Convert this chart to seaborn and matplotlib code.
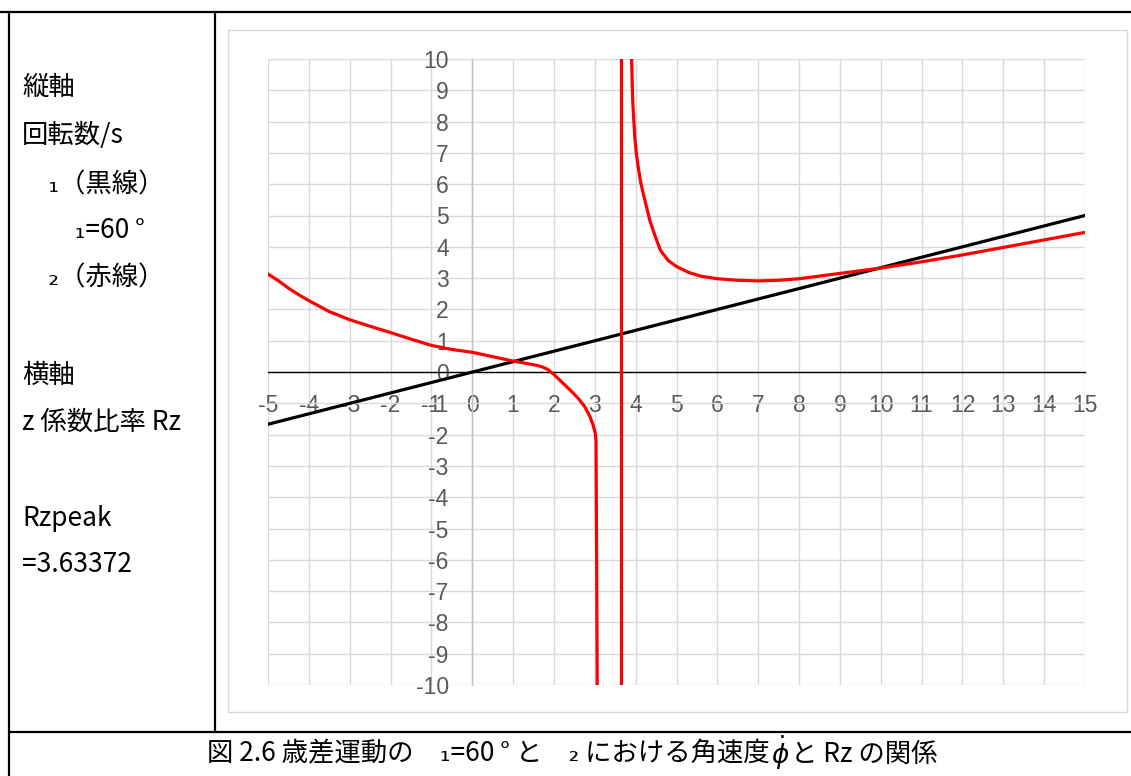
import matplotlib
matplotlib.use("Agg")
import matplotlib.pyplot as plt
import seaborn as sns
from matplotlib.lines import Line2D
from matplotlib.patches import Rectangle
from matplotlib.text import Annotation

# ---- data ----
x_ticks = list(range(-5, 16))
y_ticks = list(range(-10, 11))

black_x = [-5.0, 15.0]
black_y = [-1.67, 5.0]

red_left_x = [-5.0, -4.75, -4.5, -4.25, -4.0, -3.5, -3.0, -2.5, -2.0, -1.5, -1.0, -0.5,
              0.0, 0.5, 1.0, 1.3, 1.55, 1.7, 1.85, 2.0, 2.2, 2.4, 2.6, 2.75, 2.88,
              2.96, 3.01, 3.03, 3.06]
red_left_y = [3.13, 2.92, 2.68, 2.47, 2.28, 1.93, 1.67, 1.46, 1.26, 1.05, 0.85, 0.72,
              0.63, 0.49, 0.35, 0.28, 0.22, 0.17, 0.08, -0.08, -0.33, -0.58, -0.85, -1.1,
              -1.42, -1.7, -1.95, -2.2, -10.0]

red_right_x = [3.90, 3.93, 3.98, 4.02, 4.065, 4.12, 4.19, 4.27, 4.35, 4.48, 4.61, 4.8,
               5.0, 5.3, 5.6, 6.0, 6.5, 7.0, 7.5, 8.0, 9.0, 10.0, 11.0, 12.0, 13.0,
               14.0, 15.0]
red_right_y = [10.0, 8.6, 7.49, 6.95, 6.53, 6.08, 5.68, 5.25, 4.83, 4.33, 3.88, 3.56,
               3.37, 3.18, 3.06, 2.98, 2.93, 2.91, 2.93, 2.98, 3.15, 3.32, 3.52, 3.74,
               3.98, 4.22, 4.46]

rz_peak = 3.63372
peak_x = [rz_peak, rz_peak]
peak_y = [-10.0, 10.0]

left_lines = ["縦軸", "回転数/s", "　₁（黒線）", "　　₁=60 °", "　₂（赤線）",
              "横軸", "z 係数比率 Rz", "Rzpeak", "=3.63372"]
left_ys = [87, 135, 185, 231, 278, 375, 422, 518, 565]
caption_parts = ["図 2.6 歳差運動の　₁=60 ° と　₂ における角速度", r"$\dot{\phi}$", "と Rz の関係"]

# ---- figure ----
sns.set_theme(style="white")
plt.rcParams["font.family"] = ["Noto Sans CJK JP", "DejaVu Sans"]
plt.rcParams["mathtext.fontset"] = "dejavusans"

W, H = 1131, 776
fig = plt.figure(figsize=(W / 100, H / 100), dpi=100)
fig.patch.set_facecolor("white")


def fx(px):
    return px / W


def fy(py):
    return 1 - py / H


lw_tab = 1.6
for (x0, y0, x1, y1) in [(0, 12, W, 12), (9, 12, 9, H), (215, 12, 215, 732), (9, 732, W, 732)]:
    fig.add_artist(Line2D([fx(x0), fx(x1)], [fy(y0), fy(y1)], color="black", lw=lw_tab))

# chart frame
fig.add_artist(Rectangle((fx(228), fy(712)), fx(1127) - fx(228), fy(30) - fy(712),
                         fill=False, edgecolor="#d9d9d9", lw=1.0))

# plot area
L, R, T, B = 268, 1085, 59, 685
ax = fig.add_axes([fx(L), fy(B), fx(R) - fx(L), fy(T) - fy(B)])
ax.set_facecolor("none")

kw = dict(ax=ax, linewidth=2.3, sort=False, estimator=None)
sns.lineplot(x=black_x, y=black_y, color="black", zorder=4, **kw)
sns.lineplot(x=red_left_x, y=red_left_y, color="#ff0000", zorder=5, **kw)
sns.lineplot(x=red_right_x, y=red_right_y, color="#ff0000", zorder=5, **kw)
sns.lineplot(x=peak_x, y=peak_y, color="#ff0000", zorder=5, **kw)
for ln in ax.get_lines():
    ln.set_solid_joinstyle("round")

ax.set_xlim(-5, 15)
ax.set_ylim(-10, 10)
ax.set_xticks(x_ticks)
ax.set_yticks(y_ticks)
ax.set_xticklabels([str(v) for v in x_ticks])
ax.set_yticklabels([str(v) for v in y_ticks])
ax.grid(True, color="#d9d9d9", linewidth=1.0)
ax.set_axisbelow(True)

for s in ["top", "right"]:
    ax.spines[s].set_visible(False)
ax.spines["left"].set_position(("data", 0))
ax.spines["bottom"].set_position(("data", 0))
ax.spines["left"].set_color("#bfbfbf")
ax.spines["left"].set_linewidth(1.0)
ax.spines["bottom"].set_color("black")
ax.spines["bottom"].set_linewidth(1.0)
ax.spines["left"].set_zorder(1)

ax.tick_params(axis="x", length=0, pad=16, labelsize=16.5, labelcolor="#595959")
ax.tick_params(axis="y", length=0, pad=17, labelsize=16.5, labelcolor="#595959")
for lab in ax.get_xticklabels() + ax.get_yticklabels():
    lab.set_fontfamily(["Liberation Sans", "DejaVu Sans"])
ax.set_xlabel("")
ax.set_ylabel("")
if ax.get_legend():
    ax.get_legend().remove()

# left column text
for txt, py in zip(left_lines, left_ys):
    fig.text(fx(22), fy(py), txt, fontsize=19, va="center", ha="left", color="black")

# caption: three pieces chained at draw time
cap_size = 19
cap0 = fig.text(fx(207), fy(754), caption_parts[0], fontsize=cap_size,
                va="center", ha="left", color="black")
cap1 = Annotation(caption_parts[1], xy=(1, 0.5), xycoords=cap0, xytext=(1, 1),
                  textcoords="offset points", ha="left", va="center",
                  fontsize=cap_size, color="black")
fig.add_artist(cap1)
cap2 = Annotation(caption_parts[2], xy=(1, 0.5), xycoords=cap1, xytext=(1, -1),
                  textcoords="offset points", ha="left", va="center",
                  fontsize=cap_size, color="black")
fig.add_artist(cap2)

fig.savefig("out.png", dpi=100, facecolor="white")
